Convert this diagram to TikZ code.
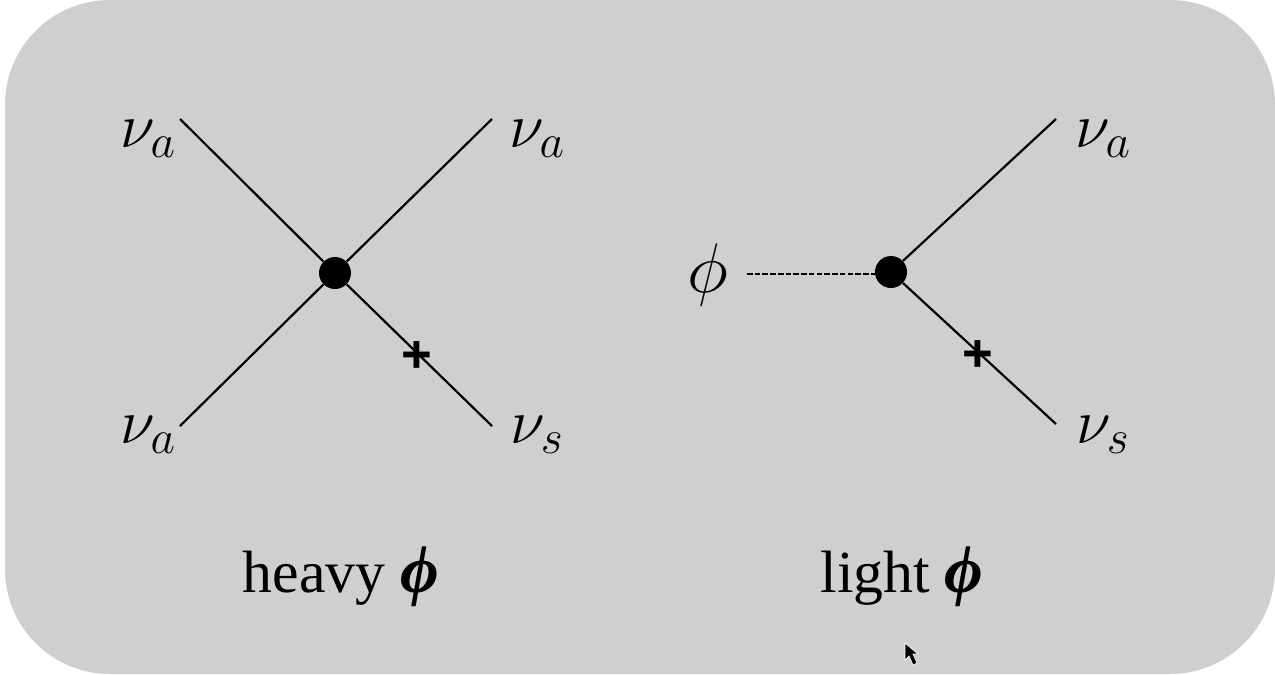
\documentclass[tikz,border=0pt]{standalone}
\usepackage{fix-cm}
\usepackage{amsmath}
\usepackage{fontspec}
\setmainfont{Liberation Serif}
\newfontfamily\crossfont{Liberation Sans}
\DeclareMathSizes{36}{36}{27}{20}
\definecolor{panelgray}{RGB}{207,207,207}
\newcommand{\boldphi}{{\fontsize{38}{38}\selectfont\bfseries\itshape ϕ}}
\tikzset{
    leg/.style={line width=1.25pt, black},
    scalarleg/.style={line width=1.1pt, black, dash pattern=on 3.2pt off 1.2pt},
    vertex/.style={circle, fill=black, inner sep=0pt, minimum size=0.64cm},
    flavor/.style={font=\fontsize{36}{36}\selectfont, inner sep=0pt},
    caption/.style={font=\fontsize{34}{34}\selectfont, inner sep=0pt},
    masscross/.style={font=\crossfont\bfseries\fontsize{30}{30}\selectfont, inner sep=0pt},
}
\begin{document}
\begin{tikzpicture}[x=0.02cm, y=-0.02cm]
    \useasboundingbox (0, 0) rectangle (1275, 674);
    % background
    \fill[white] (0, 0) rectangle (1275, 674);
    \fill[panelgray, rounded corners=2.1cm] (5, 0) rectangle (1275, 674);

    % heavy
    \node[vertex] (heavyv) at (335, 273) {};
    \coordinate (hul) at (180, 119);
    \coordinate (hur) at (492, 119);
    \coordinate (hdl) at (180, 426);
    \coordinate (hdr) at (492, 426);
    \draw[leg] (hul) -- (heavyv);
    \draw[leg] (hur) -- (heavyv);
    \draw[leg] (hdl) -- (heavyv);
    \draw[leg] (hdr) -- (heavyv);
    \node[masscross] (heavyx) at (417, 357) {+};
    \node[flavor] (hulabel) at (148, 139) {$\nu_a$};
    \node[flavor] (hurlabel) at (537, 139) {$\nu_a$};
    \node[flavor] (hdllabel) at (148, 435) {$\nu_a$};
    \node[flavor] (hdrlabel) at (537, 435) {$\nu_s$};
    \node[caption] (heavytext) at (341, 577) {heavy \boldphi};

    % light
    \node[vertex] (lightv) at (891, 272) {};
    \coordinate (lur) at (1056, 119);
    \coordinate (ldr) at (1056, 424);
    \node[flavor, font=\fontsize{40}{40}\selectfont] (philabel) at (708, 275) {$\phi$};
    \coordinate (lphi) at (747, 274);
    \draw[leg] (lur) -- (lightv);
    \draw[leg] (ldr) -- (lightv);
    \draw[scalarleg] (lphi) -- (lphi -| lightv);
    \node[masscross] (lightx) at (978, 356) {+};
    \node[flavor] (lurlabel) at (1103, 139) {$\nu_a$};
    \node[flavor] (ldrlabel) at (1103, 435) {$\nu_s$};
    \node[caption] (lighttext) at (902, 577) {light \boldphi};

    % cursor
    \fill[black, draw=white, line width=0.4pt] (905, 643) -- (905, 660) -- (909, 656) -- (913, 665) -- (917, 663) -- (913, 654) -- (918, 654) -- cycle;
\end{tikzpicture}
\end{document}
